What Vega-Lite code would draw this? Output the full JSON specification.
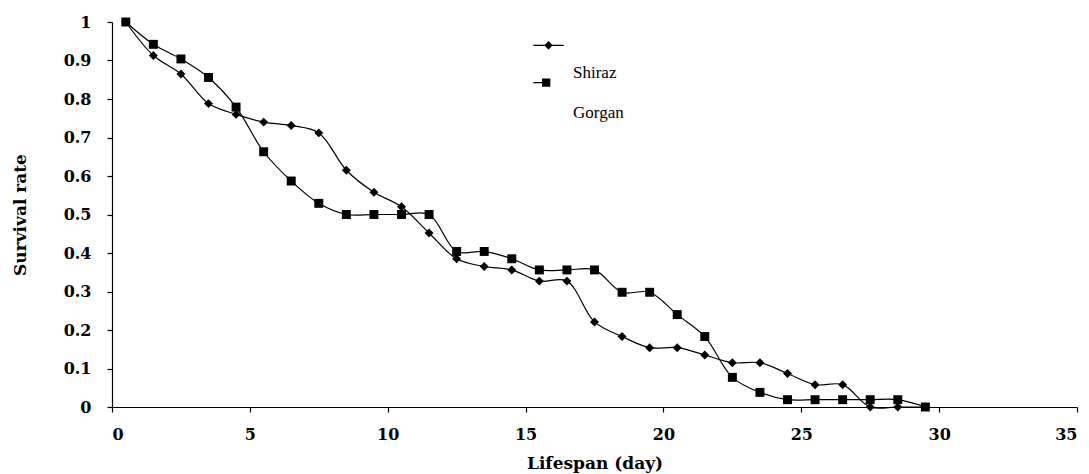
{
  "$schema": "https://vega.github.io/schema/vega-lite/v6.json",
  "width": 965,
  "height": 385,
  "autosize": {"type": "none"},
  "padding": {"left": 112, "top": 22, "right": 12, "bottom": 67},
  "background": "white",
  "config": {
    "view": {"stroke": null}
  },
  "data": {
    "values": [
      {"day": 0.5, "rate": 1, "site": "Shiraz"},
      {"day": 1.5, "rate": 0.913, "site": "Shiraz"},
      {"day": 2.5, "rate": 0.865, "site": "Shiraz"},
      {"day": 3.5, "rate": 0.788, "site": "Shiraz"},
      {"day": 4.5, "rate": 0.76, "site": "Shiraz"},
      {"day": 5.5, "rate": 0.74, "site": "Shiraz"},
      {"day": 6.5, "rate": 0.731, "site": "Shiraz"},
      {"day": 7.5, "rate": 0.712, "site": "Shiraz"},
      {"day": 8.5, "rate": 0.615, "site": "Shiraz"},
      {"day": 9.5, "rate": 0.558, "site": "Shiraz"},
      {"day": 10.5, "rate": 0.52, "site": "Shiraz"},
      {"day": 11.5, "rate": 0.452, "site": "Shiraz"},
      {"day": 12.5, "rate": 0.385, "site": "Shiraz"},
      {"day": 13.5, "rate": 0.365, "site": "Shiraz"},
      {"day": 14.5, "rate": 0.356, "site": "Shiraz"},
      {"day": 15.5, "rate": 0.327, "site": "Shiraz"},
      {"day": 16.5, "rate": 0.327, "site": "Shiraz"},
      {"day": 17.5, "rate": 0.221, "site": "Shiraz"},
      {"day": 18.5, "rate": 0.183, "site": "Shiraz"},
      {"day": 19.5, "rate": 0.154, "site": "Shiraz"},
      {"day": 20.5, "rate": 0.154, "site": "Shiraz"},
      {"day": 21.5, "rate": 0.135, "site": "Shiraz"},
      {"day": 22.5, "rate": 0.115, "site": "Shiraz"},
      {"day": 23.5, "rate": 0.115, "site": "Shiraz"},
      {"day": 24.5, "rate": 0.087, "site": "Shiraz"},
      {"day": 25.5, "rate": 0.058, "site": "Shiraz"},
      {"day": 26.5, "rate": 0.058, "site": "Shiraz"},
      {"day": 27.5, "rate": 0, "site": "Shiraz"},
      {"day": 28.5, "rate": 0, "site": "Shiraz"},
      {"day": 29.5, "rate": 0, "site": "Shiraz"},
      {"day": 0.5, "rate": 1, "site": "Gorgan"},
      {"day": 1.5, "rate": 0.942, "site": "Gorgan"},
      {"day": 2.5, "rate": 0.904, "site": "Gorgan"},
      {"day": 3.5, "rate": 0.856, "site": "Gorgan"},
      {"day": 4.5, "rate": 0.779, "site": "Gorgan"},
      {"day": 5.5, "rate": 0.663, "site": "Gorgan"},
      {"day": 6.5, "rate": 0.587, "site": "Gorgan"},
      {"day": 7.5, "rate": 0.529, "site": "Gorgan"},
      {"day": 8.5, "rate": 0.5, "site": "Gorgan"},
      {"day": 9.5, "rate": 0.5, "site": "Gorgan"},
      {"day": 10.5, "rate": 0.5, "site": "Gorgan"},
      {"day": 11.5, "rate": 0.5, "site": "Gorgan"},
      {"day": 12.5, "rate": 0.404, "site": "Gorgan"},
      {"day": 13.5, "rate": 0.404, "site": "Gorgan"},
      {"day": 14.5, "rate": 0.385, "site": "Gorgan"},
      {"day": 15.5, "rate": 0.356, "site": "Gorgan"},
      {"day": 16.5, "rate": 0.356, "site": "Gorgan"},
      {"day": 17.5, "rate": 0.356, "site": "Gorgan"},
      {"day": 18.5, "rate": 0.298, "site": "Gorgan"},
      {"day": 19.5, "rate": 0.298, "site": "Gorgan"},
      {"day": 20.5, "rate": 0.24, "site": "Gorgan"},
      {"day": 21.5, "rate": 0.183, "site": "Gorgan"},
      {"day": 22.5, "rate": 0.077, "site": "Gorgan"},
      {"day": 23.5, "rate": 0.038, "site": "Gorgan"},
      {"day": 24.5, "rate": 0.019, "site": "Gorgan"},
      {"day": 25.5, "rate": 0.019, "site": "Gorgan"},
      {"day": 26.5, "rate": 0.019, "site": "Gorgan"},
      {"day": 27.5, "rate": 0.019, "site": "Gorgan"},
      {"day": 28.5, "rate": 0.019, "site": "Gorgan"},
      {"day": 29.5, "rate": 0, "site": "Gorgan"}
    ]
  },
  "encoding": {
    "x": {"field": "day", "type": "quantitative", "title": "Lifespan (day)", "scale": {"domain": [0, 35], "nice": false, "zero": true},
      "axis": {"values": [0, 5, 10, 15, 20, 25, 30, 35], "grid": false, "domainColor": "black", "tickColor": "black", "labelColor": "black", "titleColor": "black", "labelFont": "DejaVu Serif", "titleFont": "DejaVu Serif", "labelFontWeight": "bold", "titleFontWeight": "bold", "labelFontSize": 16, "titleFontSize": 17, "tickSize": 5, "domainWidth": 1.2, "tickWidth": 1.2, "labelPadding": 14, "titlePadding": 13}},
    "y": {"field": "rate", "type": "quantitative", "title": "Survival rate", "scale": {"domain": [0, 1], "nice": false},
      "axis": {"values": [0, 0.1, 0.2, 0.3, 0.4, 0.5, 0.6, 0.7, 0.8, 0.9, 1], "grid": false, "domainColor": "black", "tickColor": "black", "labelColor": "black", "titleColor": "black", "labelFont": "DejaVu Serif", "titleFont": "DejaVu Serif", "labelFontWeight": "bold", "titleFontWeight": "bold", "labelFontSize": 16, "titleFontSize": 17, "tickSize": 5, "domainWidth": 1.2, "tickWidth": 1.2, "labelPadding": 16, "titlePadding": 34, "labelExpr": "datum.value == 0 ? '0' : datum.value == 1 ? '1' : format(datum.value, '.1f')"}}
  },
  "layer": [
    {
      "mark": {"type": "line", "interpolate": "catmull-rom", "color": "black", "strokeWidth": 1.2},
      "encoding": {"detail": {"field": "site"}}
    },
    {
      "mark": {"type": "point", "filled": true, "color": "black", "opacity": 1, "size": 80},
      "encoding": {
        "shape": {"field": "site", "type": "nominal", "scale": {"domain": ["Shiraz", "Gorgan"], "range": ["diamond", "square"]}, "legend": null}
      }
    },
    {
      "mark": {"type": "point", "filled": true, "color": "black", "opacity": 0, "size": 85},
      "encoding": {
        "shape": {"field": "site", "type": "nominal", "scale": {"domain": ["Shiraz", "Gorgan"], "range": ["M-3.3,-6.03L3.3,-6.03L3.3,-5.77L-3.3,-5.77ZM0,-6.85L0.9,-5.9L0,-4.95L-0.9,-5.9Z", "M-3.3,-6.63L-0.4,-6.63L-0.4,-6.37L-3.3,-6.37ZM-1.4,-7.4L0.4,-7.4L0.4,-5.6L-1.4,-5.6Z"]},
          "legend": {"title": null, "orient": "none", "legendX": 428, "legendY": 42, "padding": 0, "labelFont": "Liberation Serif", "labelFontSize": 17, "labelColor": "black", "symbolOpacity": 1, "symbolFillColor": "black", "symbolSize": 85, "rowPadding": -6, "labelOffset": 16}}
      }
    }
  ],
  "resolve": {"scale": {"shape": "independent"}, "legend": {"shape": "independent"}}
}
